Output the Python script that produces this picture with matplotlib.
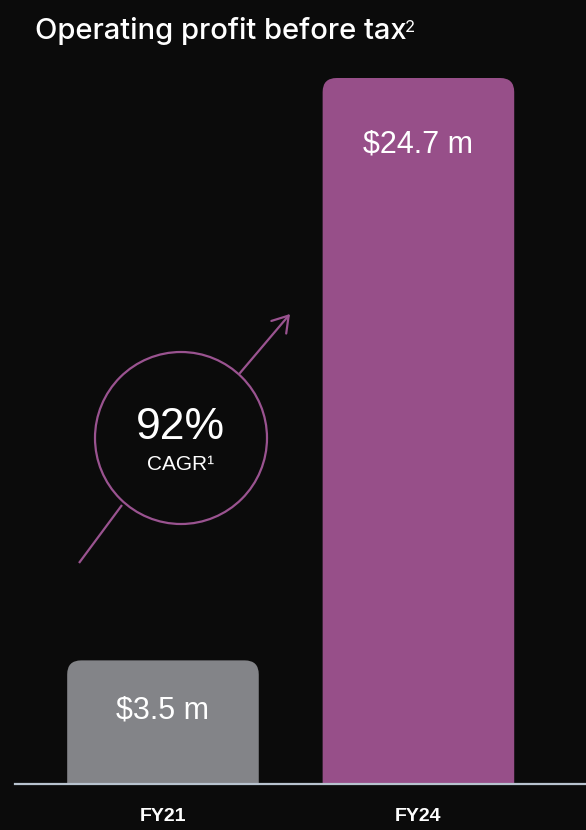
import matplotlib.pyplot as plt
import numpy as np
from matplotlib.patches import FancyBboxPatch, Circle

# data
years = ["FY21", "FY24"]
profit = [3.5, 24.7]
profit_labels = ["$3.5 m", "$24.7 m"]
cagr_text = "92%"
title = "Operating profit before tax"

BG = "#0b0b0b"
PURPLE = "#974f89"
GREY = "#838488"
bar_colors = [GREY, PURPLE]

W, H = 586, 830
fig = plt.figure(figsize=(W / 100, H / 100), dpi=100, facecolor=BG)

# main bar axes, bottom of axes sits on the baseline
base = -1.0
px_per_unit = 706 / (profit[1] - base)
ax = fig.add_axes([0, 46 / H, 1, 784 / H])
ax.set_facecolor("none")
ax.set_xlim(-0.638, 1.656)
ax.set_ylim(base, base + 784 / px_per_unit)
for s in ax.spines.values():
    s.set_visible(False)
ax.set_yticks([])

x = np.arange(len(years))
vals = np.array(profit)
bars = ax.bar(x, vals - base, bottom=base, width=0.75, color=bar_colors)

# swap square bars for rounded ones (bottom corners fall below the axes and get clipped)
r = 0.055
aspect = (14 / px_per_unit) / r
for b, c in zip(bars, bar_colors):
    x0, y0 = b.get_x(), b.get_y()
    w, h = b.get_width(), b.get_height()
    b.remove()
    p = FancyBboxPatch((x0, y0 - 2), w, h + 2,
                       boxstyle="round,pad=0,rounding_size=%f" % r,
                       mutation_aspect=aspect, facecolor=c, edgecolor="none",
                       clip_on=True, zorder=2)
    ax.add_patch(p)

# value labels inside the bars
drops = [-36, -48]
for xi, v, lab, d in zip(x, profit, profit_labels, drops):
    ax.annotate(lab, (xi, v), xytext=(0, d), textcoords="offset points",
                ha="center", va="center", color="white", fontsize=22,
                family="Liberation Sans")

ax.set_xticks(x)
ax.set_xticklabels(years, color="white", fontsize=14, fontweight="bold",
                   family="Liberation Sans")
ax.tick_params(axis="x", length=0, pad=17)

# baseline
ax.axhline(base, xmin=15 / W, xmax=1, color="#b8c3cf", lw=1.6, zorder=3,
           clip_on=False)

# overlay in pixel coords for the title and CAGR badge
ov = fig.add_axes([0, 0, 1, 1])
ov.set_xlim(0, W)
ov.set_ylim(H, 0)
ov.axis("off")
ov.patch.set_alpha(0)

t = ov.text(35, 31, title, color="white", fontsize=21, family="Inter",
            fontweight="medium", ha="left", va="center")
# small superscript 2 after the title
ov.annotate("2", xy=(1, 1), xycoords=t, xytext=(-1, -2),
            textcoords="offset points", ha="left", va="top", color="white",
            fontsize=12, family="Inter")

lc = "#9a5390"
ov.add_patch(Circle((181, 438), 86, fill=False, edgecolor=lc, lw=1.6))
ov.plot([79, 122], [563, 505], color=lc, lw=1.6, solid_capstyle="butt")
ov.annotate("", xy=(290, 314), xytext=(240, 373),
            arrowprops=dict(arrowstyle="->,head_length=0.55,head_width=0.35",
                            color=lc, lw=1.6, mutation_scale=20,
                            shrinkA=0, shrinkB=0))
ov.text(180, 427, cagr_text, color="white", fontsize=32, ha="center",
        va="center", family="Liberation Sans")
ov.text(181, 464, "CAGR\u00b9", color="white", fontsize=15, ha="center",
        va="center", family="Liberation Sans")

fig.savefig("out.png", dpi=100, facecolor=BG)
